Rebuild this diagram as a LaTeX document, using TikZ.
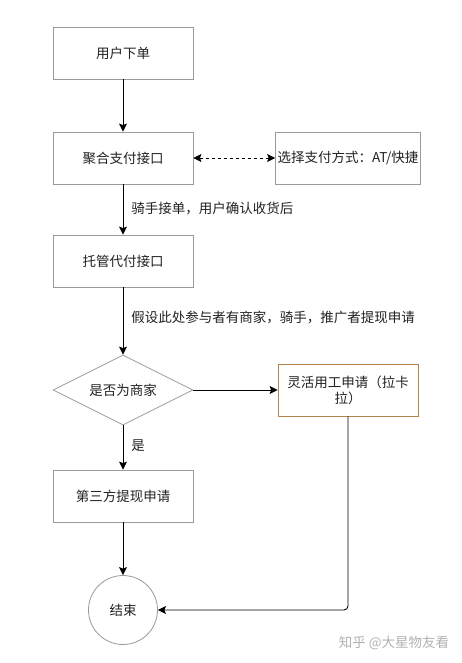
\documentclass[tikz,border=0pt]{standalone}
\usepackage{fontspec}
\setmainfont{Noto Sans CJK SC}
\usetikzlibrary{arrows.meta,shapes.geometric}
\definecolor{boxgray}{HTML}{9A9A9A}
\definecolor{orangeb}{HTML}{B5834A}
\definecolor{txt}{HTML}{222222}
\begin{document}
\begin{tikzpicture}[x=1pt,y=-1pt,
  font=\fontsize{13.5}{16}\selectfont,
  box/.style={draw=boxgray,line width=0.8pt,minimum width=140pt,minimum height=52pt,inner sep=2pt,text=txt,align=center},
  dec/.style={draw=boxgray,line width=0.8pt,diamond,aspect=2,minimum width=140pt,minimum height=70pt,inner sep=0pt,text=txt},
  term/.style={draw=boxgray,line width=0.8pt,circle,minimum size=69pt,text=txt},
  arr/.style={line width=0.9pt,-{Stealth[length=8pt,width=8pt,inset=1.5pt]}},
  lab/.style={anchor=west,text=txt,inner sep=0pt}]
\useasboundingbox (0,0) rectangle (462,663);
\fill[white] (0,0) rectangle (462,663);
\node[box] (a) at (123,53) {用户下单};
\node[box] (b) at (123,158) {聚合支付接口};
\node[box] (c) at (348,158) {选择支付方式：AT/快捷};
\node[box] (d) at (123,261) {托管代付接口};
\node[dec] (e) at (123,390) {是否为商家};
\node[box,draw=orangeb,text width=132pt] (f) at (348,390) {灵活用工申请（拉卡\\拉）};
\node[box] (g) at (123,496) {第三方提现申请};
\node[term] (h) at (123,610) {结束};
\draw[arr] (a) -- (b);
\draw[line width=0.7pt,dashed,{Stealth[length=8pt,width=8pt,inset=1.5pt]}-{Stealth[length=8pt,width=8pt,inset=1.5pt]}] (b) -- (c);
\draw[arr] (b) -- node[lab,pos=0.48,xshift=8pt] {骑手接单，用户确认收货后} (d);
\draw[arr] (d) -- node[lab,pos=0.45,xshift=8pt] {假设此处参与者有商家，骑手，推广者提现申请} (e);
\draw[arr] (e) -- (f);
\draw[arr] (e) -- node[lab,pos=0.45,xshift=8pt] {是} (g);
\draw[arr] (g) -- (h);
\draw[arr,rounded corners=4pt] (f.south) |- (h.east);
\node[text=black!30,font=\fontsize{13.5}{16}\selectfont] (w) at (394,643) {知乎 @大星物友看};
\end{tikzpicture}
\end{document}
